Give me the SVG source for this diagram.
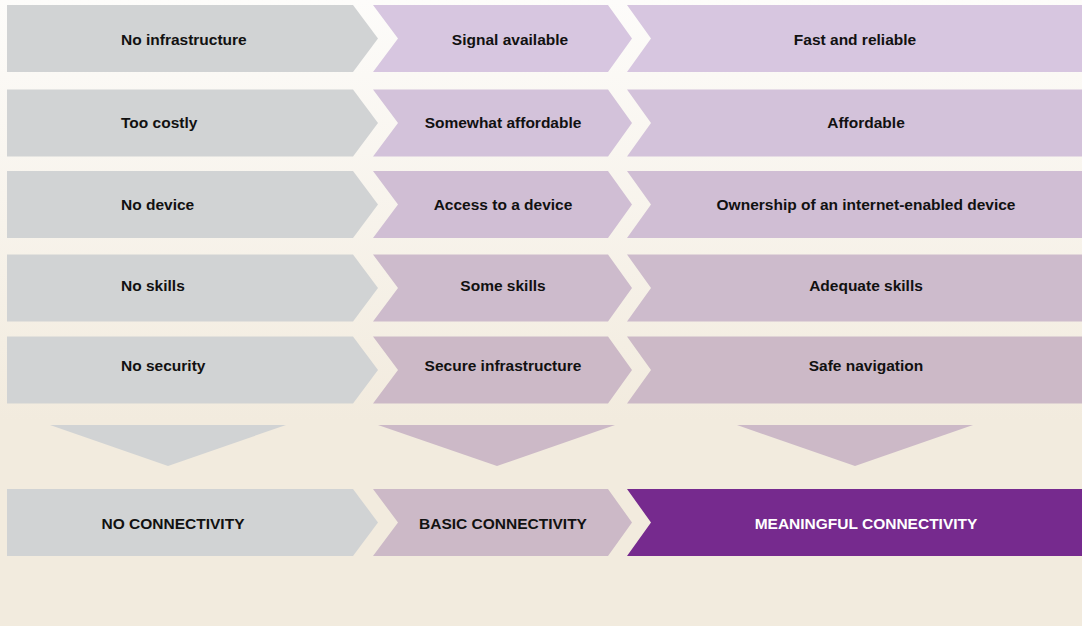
<svg xmlns="http://www.w3.org/2000/svg" width="1082" height="626" viewBox="0 0 1082 626">
<defs>
<linearGradient id="bg" gradientUnits="userSpaceOnUse" x1="0" y1="0" x2="0" y2="420">
<stop offset="0" stop-color="#fdfcfa"/>
<stop offset="1" stop-color="#f2ebde"/>
</linearGradient>
<polygon id="c1" points="7,0 353,0 378,33.5 353,67 7,67"/>
<polygon id="c2" points="373,0 608,0 632,33.5 608,67 373,67 398,33.5"/>
<polygon id="c3" points="627,0 1082,0 1082,67 627,67 651,33.5"/>
</defs>
<style>
.g{fill:#d1d3d4}
.p1{fill:#d7c6e0}
.p2{fill:#d3c2da}
.p3{fill:#d0bed4}
.p4{fill:#cdbbcc}
.p5{fill:#ccb9c7}
.m{fill:#ccb9c7}
.d{fill:#762a8e}
text{font-family:"Liberation Sans",Arial,sans-serif;font-weight:bold;font-size:15.5px;fill:#111}
.l{text-anchor:start}
.c{text-anchor:middle}
.w{fill:#ffffff}
</style>
<rect x="0" y="0" width="1082" height="626" fill="url(#bg)"/>
<rect x="0" y="420" width="1082" height="206" fill="#f2ebde"/>

<g id="row1">
<use href="#c1" y="5" class="g"/>
<use href="#c2" y="5" class="p1"/>
<use href="#c3" y="5" class="p1"/>
<text x="121" y="45" class="l">No infrastructure</text>
<text x="510" y="45" class="c">Signal available</text>
<text x="855" y="45" class="c">Fast and reliable</text>
</g>
<g id="row2">
<use href="#c1" y="89.5" class="g"/>
<use href="#c2" y="89.5" class="p2"/>
<use href="#c3" y="89.5" class="p2"/>
<text x="121" y="127.5" class="l">Too costly</text>
<text x="503" y="127.5" class="c">Somewhat affordable</text>
<text x="866" y="127.5" class="c">Affordable</text>
</g>
<g id="row3">
<use href="#c1" y="171" class="g"/>
<use href="#c2" y="171" class="p3"/>
<use href="#c3" y="171" class="p3"/>
<text x="121" y="209.5" class="l">No device</text>
<text x="503" y="209.5" class="c">Access to a device</text>
<text x="866" y="209.5" class="c">Ownership of an internet-enabled device</text>
</g>
<g id="row4">
<use href="#c1" y="254.5" class="g"/>
<use href="#c2" y="254.5" class="p4"/>
<use href="#c3" y="254.5" class="p4"/>
<text x="121" y="291" class="l">No skills</text>
<text x="503" y="291" class="c">Some skills</text>
<text x="866" y="291" class="c">Adequate skills</text>
</g>
<g id="row5">
<use href="#c1" y="336.5" class="g"/>
<use href="#c2" y="336.5" class="p5"/>
<use href="#c3" y="336.5" class="p5"/>
<text x="121" y="371" class="l">No security</text>
<text x="503" y="371" class="c">Secure infrastructure</text>
<text x="866" y="371" class="c">Safe navigation</text>
</g>

<g id="connectors">
<polygon points="50,425 286,425 168,466" class="g"/>
<polygon points="378,425 615,425 497,466" class="m"/>
<polygon points="737,425 973,425 855,466" class="m"/>
</g>

<g id="no-connectivity">
<use href="#c1" y="489" class="g"/>
<text x="173" y="528.5" class="c">NO CONNECTIVITY</text>
</g>
<g id="basic-connectivity">
<use href="#c2" y="489" class="m"/>
<text x="503" y="528.5" class="c">BASIC CONNECTIVITY</text>
</g>
<g id="meaningful-connectivity">
<use href="#c3" y="489" class="d"/>
<text x="866" y="528.5" class="c w">MEANINGFUL CONNECTIVITY</text>
</g>
</svg>
